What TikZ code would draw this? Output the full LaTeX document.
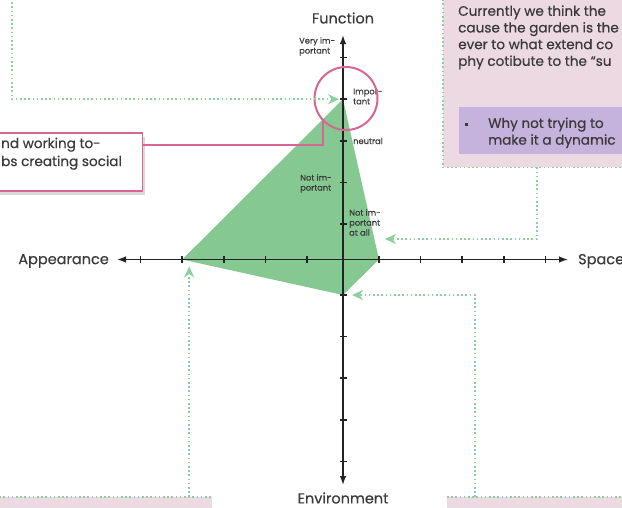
\documentclass[tikz,border=0pt]{standalone}
\usepackage{fontspec}
\setmainfont{Poppins}
\newfontfamily\chartfont{Poppins}[FakeBold=0.5]
\usetikzlibrary{arrows.meta,positioning,calc,shadows}
\definecolor{areagreen}{RGB}{134,200,146}
\definecolor{flowgreen}{RGB}{140,208,156}
\definecolor{linkpink}{RGB}{214,102,146}
\definecolor{boxpink}{RGB}{236,217,225}
\definecolor{boxlilac}{RGB}{197,178,221}
\definecolor{txtgray}{RGB}{58,58,58}
\definecolor{axisgray}{RGB}{35,35,35}

\begin{document}
\begin{tikzpicture}[x=1pt,y=-1pt,
    axis/.style={line width=1.4pt,draw=axisgray,{Latex[length=9pt,width=6.5pt]}-{Latex[length=9pt,width=6.5pt]}},
    tickmark/.style={line width=1.6pt,draw=axisgray},
    axislabel/.style={font=\chartfont\fontsize{14.5}{16}\selectfont,text=txtgray,inner sep=0},
    levellabel/.style={font=\chartfont\fontsize{8.3}{10}\selectfont,text=txtgray,align=left,inner sep=0,anchor=west},
    boxtext/.style={font=\chartfont\fontsize{13.6}{16.7}\selectfont,text=txtgray,align=left,inner sep=0,anchor=north west},
    hint/.style={draw=flowgreen,line width=1.6pt,dash pattern=on 1.6pt off 2.6pt},
    flow/.style={hint,-{Stealth[length=11pt,width=10pt,inset=3.5pt,fill=flowgreen]}},
    link/.style={draw=linkpink,line width=2pt}]
    \clip (0,0) rectangle (622,507);
    % Boxes around the chart
    \node[fill=boxpink,anchor=north west,minimum width=187,minimum height=172,inner sep=0] (rbox) at (443,-5) {};
    \draw[hint] (rbox.north west) -- (rbox.south west) -- (rbox.south east);
    \node[fill=boxlilac,anchor=north west,minimum width=170,minimum height=47,inner sep=0] (idea) at (459,107) {};
    \node[fill=boxpink,anchor=north west,minimum width=217,minimum height=20,inner sep=0] (blbox) at (-5,497) {};
    \draw[hint] (blbox.north west) -- (blbox.north east);
    \node[fill=boxpink,anchor=north west,minimum width=190,minimum height=20,inner sep=0] (brbox) at (447,497) {};
    \draw[hint] (brbox.north west) -- (brbox.north east);
    \node[draw=linkpink,line width=1.5pt,fill=white,anchor=north east,minimum width=160,minimum height=58,inner sep=0,
        drop shadow={shadow xshift=3pt,shadow yshift=-4pt,opacity=0.3}] (note) at (143,132) {};
    % Box texts
    \node[boxtext] (rtext) at (458,5.2) {Currently we think the\\cause the garden is the\\ever to what extend co\\phy cotibute to the “su};
    \node[fill=txtgray,minimum size=3pt,inner sep=0] (bullet) at (466,124) {};
    \node[boxtext] (itext) at (488,117.4) {Why not trying to\\make it a dynamic};
    \node[boxtext,font=\chartfont\fontsize{13.6}{18}\selectfont] (ntext) at (1,137.5) {nd working to-\\bs creating social};
    % Tick positions
    \coordinate (O) at (343,259.5);
    \foreach \i in {1,...,5} {
        \coordinate (hr\i) at (343+36+41.6*\i-41.6,259.5);
        \coordinate (hl\i) at (343-36-41.6*\i+41.6,259.5);
        \coordinate (vu\i) at (343,259.5-35.5-41.6*\i+41.6);
        \coordinate (vd\i) at (343,259.5+35.5+41.6*\i-41.6);
    }
    % Profile area
    \fill[areagreen] (vu4) -- (hl4) -- (vd1) -- (hr1) -- cycle;
    % Draw axes
    \coordinate (west) at (117,259.5);
    \coordinate (east) at (568,259.5);
    \coordinate (north) at (343,35);
    \coordinate (south) at (343,485);
    \draw[axis] (west) -- (east);
    \draw[axis] (north) -- (south);
    \foreach \i in {1,...,5} {
        \draw[tickmark] ([yshift=3.5pt]hr\i) -- ([yshift=-3.5pt]hr\i);
        \draw[tickmark] ([yshift=3.5pt]hl\i) -- ([yshift=-3.5pt]hl\i);
        \draw[tickmark] ([xshift=3.5pt]vu\i) -- ([xshift=-3.5pt]vu\i);
        \draw[tickmark] ([xshift=3.5pt]vd\i) -- ([xshift=-3.5pt]vd\i);
    }
    \node[axislabel] (function) at (343,18) {Function};
    \node[axislabel] (environment) at (343,498) {Environment};
    \node[axislabel,anchor=east] (appearance) at (109,261) {Appearance};
    \node[axislabel,anchor=west] (space) at (578,261) {Space};
    % Level labels
    \node[levellabel] (veryimp) at (299,46.5) {Very im-\\portant};
    \node[levellabel] (imptext) at (353,96.5) {Impor-\\tant};
    \node[levellabel] (neutral) at (353,141) {neutral};
    \node[levellabel] (notimp) at (300,183.5) {Not im-\\portant};
    \node[levellabel] (notatall) at (349,222.5) {Not im-\\portant\\at all};
    % Highlight
    \node[circle,draw=linkpink,line width=2pt,minimum size=63,inner sep=0] (imp) at (346,98.5) {};
    \draw[link] ($(note.north east)+(0,13)$) -| (imp.south west);
    % Dotted pointers
    \coordinate (topleft) at (12,-2);
    \draw[flow] (topleft) |- ([xshift=-4pt]vu4);
    \coordinate (a2) at (385,239);
    \draw[flow] ([xshift=94pt]rbox.south west) |- (a2);
    \draw[flow] ([xshift=28pt]brbox.north west) |- ([xshift=9pt]vd1);
    \coordinate (b4) at ([xshift=7pt]hl4);
    \draw[flow] (blbox.north -| b4) -- ([yshift=-7pt]b4);
\end{tikzpicture}
\end{document}
